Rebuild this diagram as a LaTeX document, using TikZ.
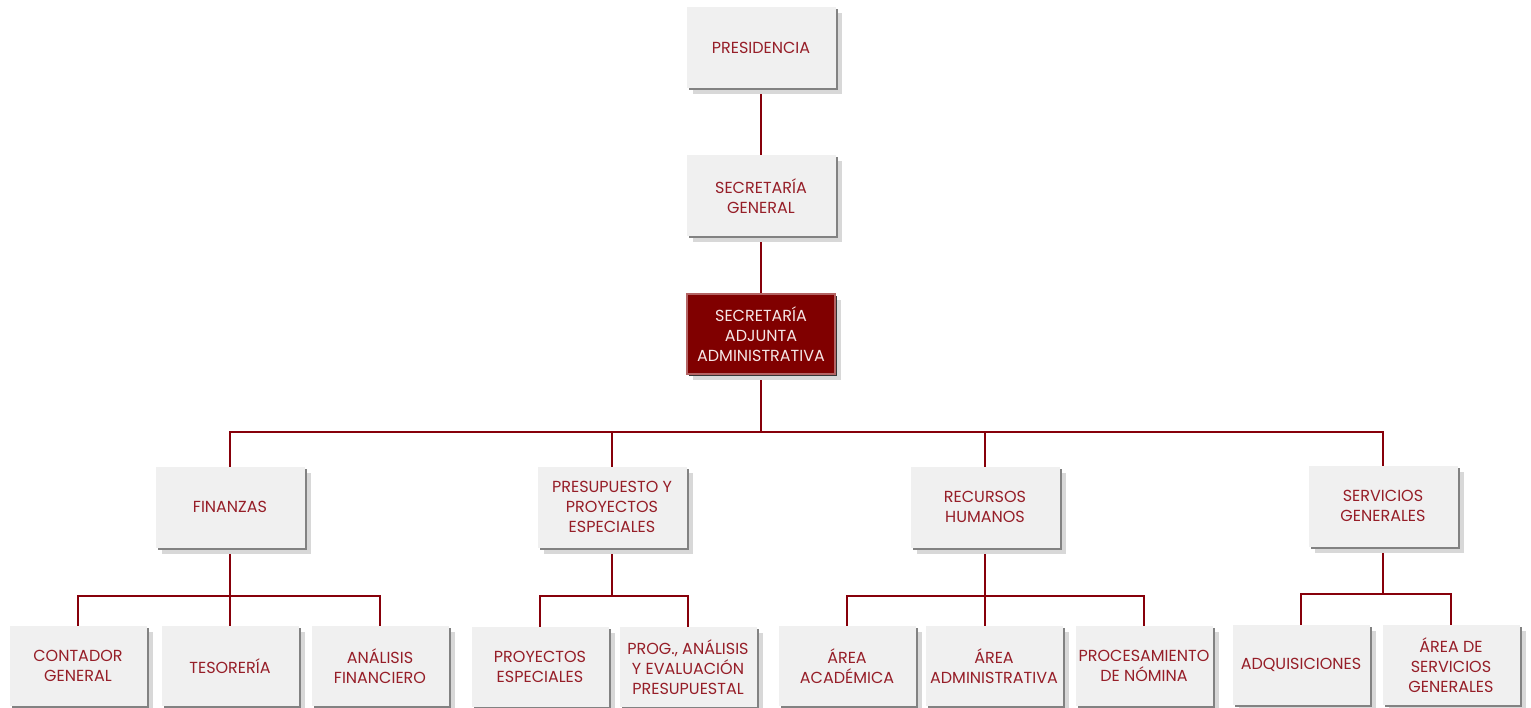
\documentclass[tikz,border=0pt]{standalone}
\usepackage{fontspec}
\setmainfont{Poppins}
\usetikzlibrary{shadows}
\definecolor{txtred}{RGB}{150,30,40}
\definecolor{linered}{RGB}{135,0,10}
\definecolor{boxfill}{RGB}{240,240,240}
\definecolor{shlight}{RGB}{216,216,216}
\definecolor{shdark}{RGB}{130,130,130}
\definecolor{darkfill}{RGB}{128,0,0}
\definecolor{darkedge}{RGB}{180,100,100}
\definecolor{whitetxt}{RGB}{245,230,230}
\pgfdeclarelayer{bg}
\pgfsetlayers{bg,main}
\tikzset{
  orgbox/.style={rectangle, fill=boxfill, text=txtred, align=center,
    font=\fontsize{16}{20}\selectfont,
    general shadow={fill=shlight, shadow xshift=6pt, shadow yshift=-6pt},
    general shadow={fill=shdark, shadow xshift=2pt, shadow yshift=-2pt},
    inner sep=0pt},
  bigbox/.style={orgbox, minimum width=149pt, minimum height=81pt},
  smallbox/.style={orgbox, minimum width=137pt, minimum height=80pt},
  darkbox/.style={rectangle, fill=darkfill, draw=darkedge, line width=1.5pt, text=whitetxt,
    align=center, font=\fontsize{16}{20}\selectfont, inner sep=0pt,
    minimum width=148pt, minimum height=80pt,
    general shadow={fill=shlight, shadow xshift=6pt, shadow yshift=-6pt},
    general shadow={fill=black!80, shadow xshift=2pt, shadow yshift=-2pt}},
  conn/.style={draw=linered, line width=2.8pt}
}
\begin{document}
\begin{tikzpicture}[x=1pt,y=-1pt]
\useasboundingbox (0,0) rectangle (1531,708);
% level 0-2
\node[bigbox] (pres) at (761,48) {PRESIDENCIA};
\node[bigbox] (sg) at (761,196) {SECRETARÍA\\GENERAL};
\node[darkbox] (saa) at (761,334) {SECRETARÍA\\ADJUNTA\\ADMINISTRATIVA};
% level 3
\node[bigbox] (fin) at (230,507) {FINANZAS};
\node[bigbox] (pyp) at (612,507) {PRESUPUESTO Y\\PROYECTOS\\ESPECIALES};
\node[bigbox] (rh) at (985,507) {RECURSOS\\HUMANOS};
\node[bigbox] (serv) at (1383,506) {SERVICIOS\\GENERALES};
% level 4
\node[smallbox] (cg) at (78,666) {CONTADOR\\GENERAL};
\node[smallbox] (tes) at (230,666) {TESORERÍA};
\node[smallbox] (af) at (380,666) {ANÁLISIS\\FINANCIERO};
\node[smallbox] (proy) at (540,667) {PROYECTOS\\ESPECIALES};
\node[smallbox] (prog) at (688,667) {PROG., ANÁLISIS\\Y EVALUACIÓN\\PRESUPUESTAL};
\node[smallbox] (aac) at (847,666) {ÁREA\\ACADÉMICA};
\node[smallbox] (aad) at (994,666) {ÁREA\\ADMINISTRATIVA};
\node[smallbox] (pn) at (1144,666) {PROCESAMIENTO\\DE NÓMINA};
\node[smallbox] (adq) at (1301,665) {ADQUISICIONES};
\node[smallbox] (asg) at (1451,665) {ÁREA DE\\SERVICIOS\\GENERALES};
\coordinate (busA) at (761,432);
\coordinate (busF) at (230,596);
\coordinate (busP) at (612,596);
\coordinate (busR) at (985,596);
\coordinate (busS) at (1383,594);
\begin{pgfonlayer}{bg}
\draw[conn] (pres.center) -- (sg.center);
\draw[conn] (sg.center) -- (saa.center);
\draw[conn] (saa.center) -- (busA);
\draw[conn] (fin.center) |- (busA) -| (serv.center);
\draw[conn] (pyp.center) -- (pyp.center |- busA);
\draw[conn] (rh.center) -- (rh.center |- busA);
\draw[conn] (fin.center) -- (busF);
\draw[conn] (cg.center) |- (busF) -| (af.center);
\draw[conn] (tes.center) -- (tes.center |- busF);
\draw[conn] (pyp.center) -- (busP);
\draw[conn] (proy.center) |- (busP) -| (prog.center);
\draw[conn] (rh.center) -- (rh.center |- aad.north);
\draw[conn] (aac.center) |- (busR) -| (pn.center);
\draw[conn] (serv.center) -- (busS);
\draw[conn] (adq.center) |- (busS) -| (asg.center);
\end{pgfonlayer}
\end{tikzpicture}
\end{document}
